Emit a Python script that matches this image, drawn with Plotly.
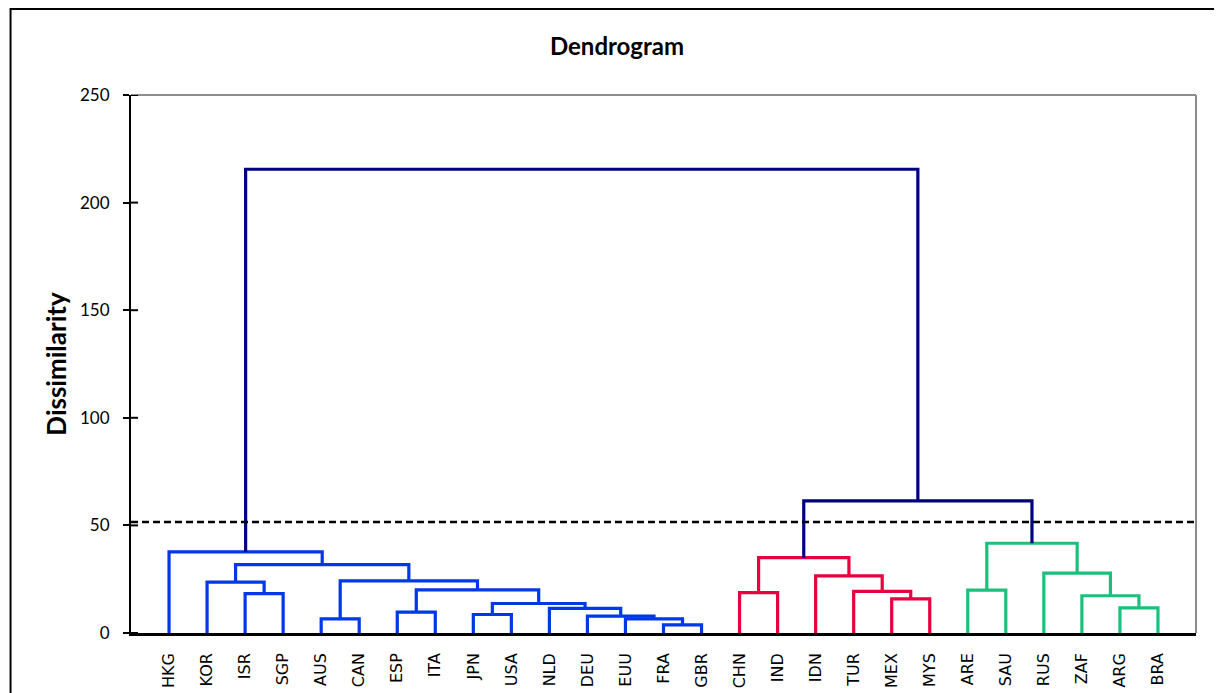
import plotly.graph_objects as go

# ---------------- data ----------------
leaves = ["HKG", "KOR", "ISR", "SGP", "AUS", "CAN", "ESP", "ITA", "JPN", "USA",
          "NLD", "DEU", "EUU", "FRA", "GBR", "CHN", "IND", "IDN", "TUR", "MEX",
          "MYS", "ARE", "SAU", "RUS", "ZAF", "ARG", "BRA"]

# merges: left child id, right child id (leaves 0..26, merged nodes 27+), height, group
merge_left = [13, 12, 11, 10, 8, 31, 6, 33, 4, 35, 2, 1, 38, 0,
              15, 19, 18, 17, 41,
              25, 24, 23, 21, 49,
              45, 40]
merge_right = [14, 27, 28, 29, 9, 30, 7, 32, 5, 34, 3, 37, 36, 39,
               16, 20, 42, 43, 44,
               26, 46, 47, 22, 48,
               50, 51]
merge_height = [3.8, 6.6, 7.8, 11.4, 8.6, 13.7, 9.7, 20.0, 6.6, 24.2, 18.3, 23.6, 31.8, 37.7,
                18.8, 15.9, 19.3, 26.5, 35.0,
                11.7, 17.3, 27.8, 19.9, 41.7,
                61.4, 215.5]
merge_group = ["c1"] * 14 + ["c2"] * 5 + ["c3"] * 5 + ["top"] * 2

cut_level = 51.6
y_ticks = [0, 50, 100, 150, 200, 250]

group_colors = {"c1": "#0038E8", "c2": "#E8003F", "c3": "#1CBF7B", "top": "#000080"}

# ---------------- build link paths ----------------
n = len(leaves)
pos = {i: i + 1 for i in range(n)}
hgt = {i: 0.0 for i in range(n)}
paths = {g: ([], []) for g in group_colors}
for k, (a, b, h, g) in enumerate(zip(merge_left, merge_right, merge_height, merge_group)):
    xs, ys = paths[g]
    xs += [pos[a], pos[a], pos[b], pos[b], None]
    ys += [hgt[a], h, h, hgt[b], None]
    pos[n + k] = (pos[a] + pos[b]) / 2
    hgt[n + k] = h

fig = go.Figure()
for g, (xs, ys) in paths.items():
    fig.add_trace(go.Scatter(x=xs, y=ys, mode="lines",
                             line=dict(color=group_colors[g], width=3.2),
                             showlegend=False, hoverinfo="skip"))

fig.add_hline(y=cut_level, line=dict(color="black", width=2.5, dash="7px,4px"))

# plot-area border (gray top/right)
fig.add_shape(type="line", xref="paper", yref="paper", x0=0, x1=1, y0=1, y1=1,
              line=dict(color="#8c8c8c", width=2))
fig.add_shape(type="line", xref="paper", yref="paper", x0=1, x1=1, y0=0, y1=1,
              line=dict(color="#8c8c8c", width=2))
# inner half of the crossing y ticks
for t in y_ticks:
    fig.add_shape(type="line", xref="paper", yref="y", xsizemode="pixel", xanchor=0,
                  x0=0, x1=7, y0=t, y1=t, line=dict(color="black", width=2))
# outer chart border
fig.add_shape(type="rect", xref="paper", yref="paper",
              x0=-0.1131, x1=1.2, y0=-0.3, y1=1.1599,
              line=dict(color="black", width=2), layer="below")

W, H = 1214, 685  # page body adds an 8px margin
fig.update_layout(
    width=W, height=H,
    margin=dict(l=123, r=26, t=87, b=60),
    plot_bgcolor="white", paper_bgcolor="white",
    title=dict(text="<b>Dendrogram</b>", x=609 / W, xref="container", xanchor="center",
               y=1 - 39 / H, yref="container", yanchor="middle",
               font=dict(family="Lato", size=24, color="black")),
    xaxis=dict(range=[0, 28], tickmode="array", tickvals=list(range(1, n + 1)),
               ticktext=leaves, tickangle=-90, showline=True, linecolor="black",
               linewidth=2.5, ticks="", showgrid=False, zeroline=False,
               tickfont=dict(family="DejaVu Sans", size=16, color="black"),
               ticklabelstandoff=11, automargin=False),
    yaxis=dict(range=[0, 250], tickmode="array", tickvals=y_ticks, showline=True,
               linecolor="black", linewidth=2, ticks="outside", ticklen=6, tickwidth=2,
               tickcolor="black", showgrid=False, zeroline=False,
               tickfont=dict(family="Lato", size=17, color="black"),
               ticklabelstandoff=10, automargin=False,
               title=dict(text="<b>Dissimilarity</b>", standoff=6,
                          font=dict(family="Lato", size=26, color="black"))),
)

fig.write_html("out.html")
